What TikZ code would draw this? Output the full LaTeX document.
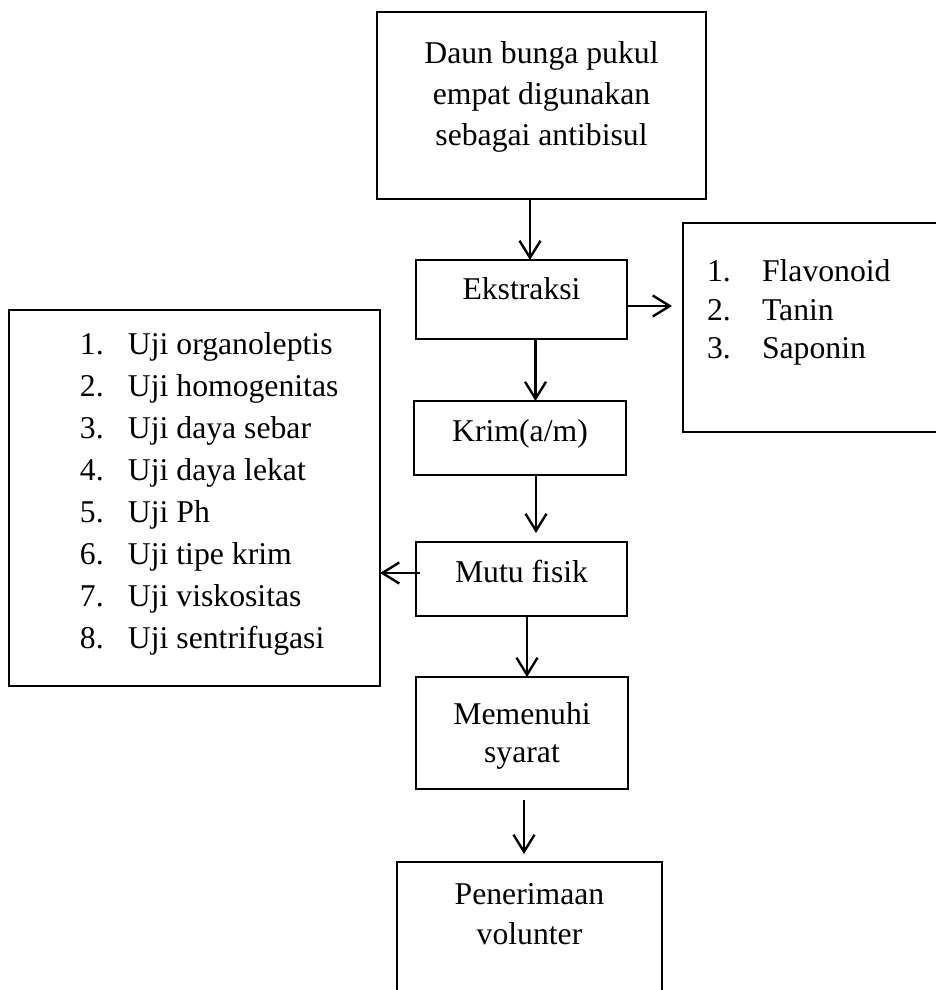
\documentclass[tikz,border=0pt]{standalone}
\usepackage{fontspec}
\setmainfont{Liberation Serif}
\usetikzlibrary{arrows.meta}

\begin{document}
\begin{tikzpicture}[x=1pt, y=-1pt,
    every node/.style={font=\fontsize{31.7}{41}\selectfont},
    kotak/.style={draw, line width=2.9pt, inner sep=0pt, outer sep=0pt, anchor=north west},
    panah/.style={line width=2.4pt, -{Straight Barb[length=17pt,width=21pt]}}]
    \useasboundingbox (0,0) rectangle (936,990);

    \node[kotak] (daun) at (377,12) {\parbox[c][187pt][t]{329pt}{\centering\vspace*{30pt}Daun bunga pukul\\empat digunakan\\sebagai antibisul}};
    \node[kotak] (ekstraksi) at (416,260) {\parbox[c][79pt][t]{211pt}{\centering\vspace*{18pt}Ekstraksi}};
    \node[kotak] (senyawa) at (683,223) {\parbox[c][209pt][t]{257pt}{\raggedright\baselineskip=38.5pt\vspace*{37pt}%
        \hspace*{24pt}\makebox[55pt][l]{1.}Flavonoid\\
        \hspace*{24pt}\makebox[55pt][l]{2.}Tanin\\
        \hspace*{24pt}\makebox[55pt][l]{3.}Saponin}};
    \node[kotak] (krim) at (414,401) {\parbox[c][74pt][t]{212pt}{\centering\vspace*{19pt}Krim(a/m)}};
    \node[kotak] (uji) at (9,310) {\parbox[c][376pt][t]{371pt}{\raggedright\baselineskip=42pt\vspace*{22pt}%
        \hspace*{71pt}\makebox[48pt][l]{1.}Uji organoleptis\\
        \hspace*{71pt}\makebox[48pt][l]{2.}Uji homogenitas\\
        \hspace*{71pt}\makebox[48pt][l]{3.}Uji daya sebar\\
        \hspace*{71pt}\makebox[48pt][l]{4.}Uji daya lekat\\
        \hspace*{71pt}\makebox[48pt][l]{5.}Uji Ph\\
        \hspace*{71pt}\makebox[48pt][l]{6.}Uji tipe krim\\
        \hspace*{71pt}\makebox[48pt][l]{7.}Uji viskositas\\
        \hspace*{71pt}\makebox[48pt][l]{8.}Uji sentrifugasi}};
    \node[kotak] (mutu) at (416,542) {\parbox[c][74pt][t]{211pt}{\centering\vspace*{18pt}Mutu fisik}};
    \node[kotak] (syarat) at (416,677) {\parbox[c][112pt][t]{212pt}{\centering\baselineskip=38pt\vspace*{25pt}Memenuhi\\syarat}};
    \node[kotak] (volunter) at (397,862) {\parbox[c][134pt][t]{265pt}{\centering\baselineskip=40pt\vspace*{21pt}Penerimaan\\volunter}};

    \coordinate (keSenyawa) at (672,306);

    \draw[panah] ([xshift=8.5pt]ekstraksi.north |- daun.south) -- ([xshift=8.5pt]ekstraksi.north);
    \draw[panah] (ekstraksi.east |- keSenyawa) -- (keSenyawa);
    \draw[panah] ([xshift=14pt]ekstraksi.south) -- ([xshift=14pt]ekstraksi.south |- krim.north);
    \draw[panah] ([xshift=16pt]krim.south) -- ([xshift=16pt,yshift=9pt]krim.south |- mutu.north);
    \draw[panah] ([xshift=4pt,yshift=6pt]mutu.west) -- ([yshift=6pt]mutu.west -| uji.east);
    \draw[panah] ([xshift=5.5pt]mutu.south) -- ([xshift=5.5pt]mutu.south |- syarat.north);
    \draw[panah] ([xshift=2pt,yshift=-11pt]syarat.south) -- ([xshift=-5.5pt,yshift=8pt]volunter.north);
\end{tikzpicture}
\end{document}
